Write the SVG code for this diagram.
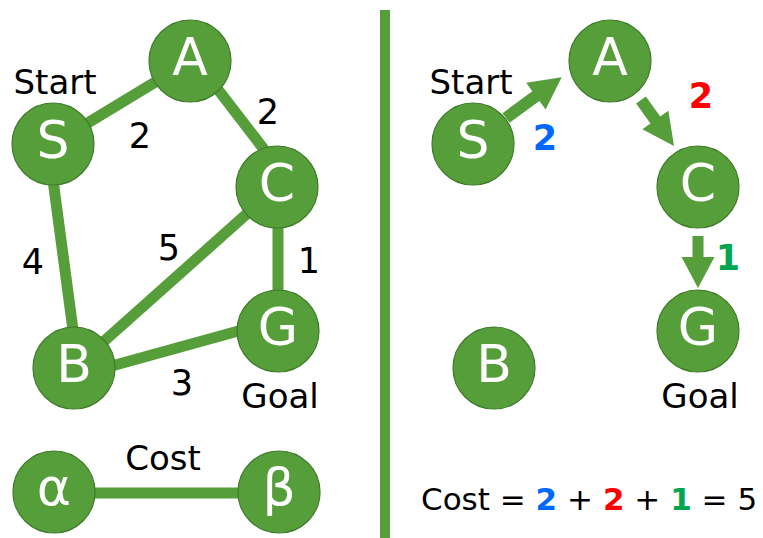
<svg xmlns="http://www.w3.org/2000/svg" width="763" height="538" viewBox="0 0 763 538">
<style>
.node{fill:#559E3A;stroke:#3F7A2A;stroke-width:1.2}
.nl{font-family:"DejaVu Sans",Verdana,sans-serif;font-size:52px;fill:#ffffff;text-anchor:middle}
.edge{stroke:#559E3A;stroke-width:11;fill:none}
.lbl{font-family:"DejaVu Sans",Verdana,sans-serif;font-size:34px;fill:#000000;text-anchor:middle}
.num{font-family:"DejaVu Sans",Verdana,sans-serif;font-size:35px;fill:#000000;text-anchor:middle}
.bnum{font-family:"DejaVu Sans",Verdana,sans-serif;font-size:35px;font-weight:bold;text-anchor:middle}
.arrow{fill:#559E3A}
</style>
<rect width="763" height="538" fill="#ffffff"/>
<rect x="380" y="10" width="10" height="528" fill="#559E3A"/>
<g id="connectors">
<line class="edge" x1="53" y1="144" x2="190" y2="61"/>
<line class="edge" x1="203" y1="70" x2="276" y2="165"/>
<line class="edge" x1="49" y1="150" x2="77" y2="360"/>
<line class="edge" x1="74" y1="368" x2="277" y2="187"/>
<line class="edge" x1="90" y1="372" x2="260" y2="325"/>
<line class="edge" x1="278" y1="187" x2="278" y2="331"/>
<line class="edge" x1="54" y1="493" x2="279" y2="493"/>
<polygon class="arrow" transform="translate(506,118) rotate(-36.2)" points="0,-6 37,-6 37,-16.5 69,0 37,16.5 37,6 0,6"/>
<polygon class="arrow" transform="translate(641,100) rotate(54.3)" points="0,-6 24.6,-6 24.6,-16 56.6,0 24.6,16 24.6,6 0,6"/>
<polygon class="arrow" transform="translate(698,236) rotate(90)" points="0,-5.5 21,-5.5 21,-16.5 52,0 21,16.5 21,5.5 0,5.5"/>
</g>
<g id="edge-labels">
<text class="num" x="140" y="148">2</text>
<text class="num" x="268" y="124">2</text>
<text class="num" x="33" y="274">4</text>
<text class="num" x="169" y="260">5</text>
<text class="num" x="309" y="273">1</text>
<text class="num" x="182" y="395">3</text>
<text class="lbl" x="163" y="470">Cost</text>
<text class="bnum" x="545" y="150" fill="#0068FF">2</text>
<text class="bnum" x="701" y="108" fill="#FF0000">2</text>
<text class="bnum" x="728" y="270" fill="#00A650">1</text>
</g>
<g id="L-S"><circle class="node" cx="53" cy="144" r="41"/><text class="nl" x="53" y="158">S</text><text class="lbl" x="55" y="94">Start</text></g>
<g id="L-A"><circle class="node" cx="190" cy="61" r="41"/><text class="nl" x="190" y="75">A</text></g>
<g id="L-C"><circle class="node" cx="277" cy="187" r="41"/><text class="nl" x="277" y="201">C</text></g>
<g id="L-G"><circle class="node" cx="278" cy="331" r="41"/><text class="nl" x="278" y="345">G</text><text class="lbl" x="280" y="408">Goal</text></g>
<g id="L-B"><circle class="node" cx="74" cy="368" r="41"/><text class="nl" x="74" y="382">B</text></g>
<g id="L-alpha"><circle class="node" cx="54" cy="492" r="41"/><text class="nl" x="54" y="505">α</text></g>
<g id="L-beta"><circle class="node" cx="279" cy="492" r="41"/><text class="nl" x="279" y="505">β</text></g>
<g id="R-S"><circle class="node" cx="473" cy="144" r="41"/><text class="nl" x="473" y="158">S</text><text class="lbl" x="471" y="94">Start</text></g>
<g id="R-A"><circle class="node" cx="610" cy="61" r="41"/><text class="nl" x="610" y="75">A</text></g>
<g id="R-C"><circle class="node" cx="698" cy="187" r="41"/><text class="nl" x="698" y="201">C</text></g>
<g id="R-G"><circle class="node" cx="698" cy="331" r="41"/><text class="nl" x="698" y="345">G</text><text class="lbl" x="700" y="408">Goal</text></g>
<g id="R-B"><circle class="node" cx="494" cy="368" r="41"/><text class="nl" x="494" y="382">B</text></g>
<g id="cost-equation">
<text x="421" y="510" font-family="DejaVu Sans, Verdana, sans-serif" font-size="31" fill="#000000">Cost = <tspan font-weight="bold" fill="#0068FF">2</tspan> + <tspan font-weight="bold" fill="#FF0000">2</tspan> + <tspan font-weight="bold" fill="#00A650">1</tspan> = 5</text>
</g>
</svg>
